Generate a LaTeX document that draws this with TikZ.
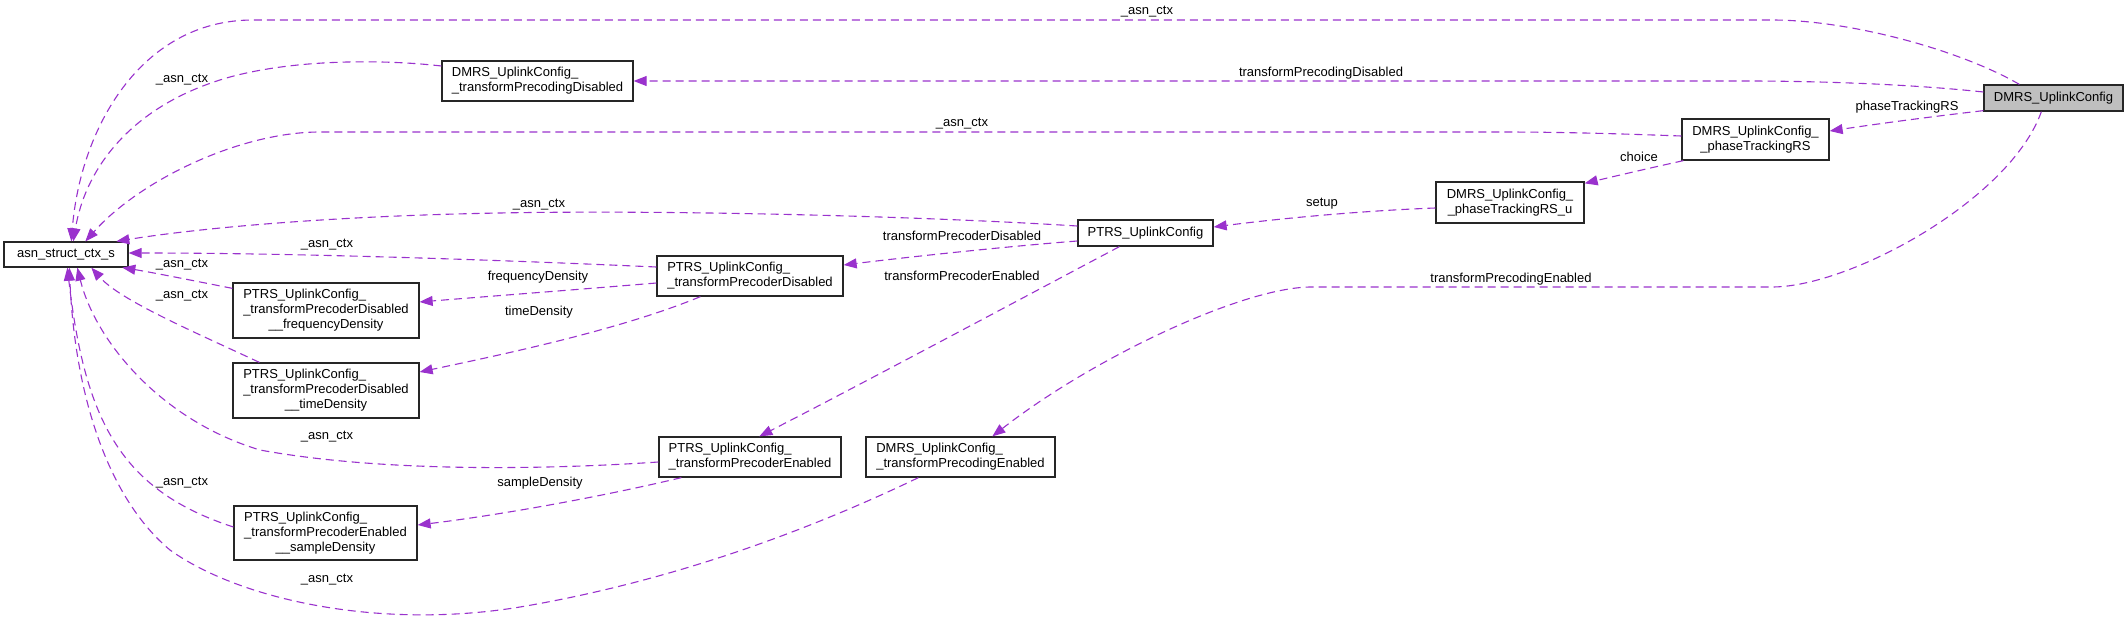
\documentclass[tikz,border=0pt]{standalone}
\usepackage{fontspec}
\setmainfont{Liberation Sans}
\usetikzlibrary{arrows.meta,calc}
\definecolor{edgec}{RGB}{154,50,205}
\newcommand{\twoline}[2]{\begin{tabular}{@{}l@{}}#1\\\multicolumn{1}{@{}c@{}}{#2}\end{tabular}}
\newcommand{\threeline}[3]{\begin{tabular}{@{}l@{}}#1\\#2\\\multicolumn{1}{@{}c@{}}{#3}\end{tabular}}
\begin{document}
\begin{tikzpicture}[x=1pt,y=-1pt,
  font=\fontsize{13}{15}\selectfont,
  box/.style={draw=black!85, line width=1.3pt, fill=white, inner sep=0pt, anchor=center},
  edge/.style={draw=edgec, line width=1.1pt, dash pattern=on 8pt off 5pt, -{Triangle[length=13pt,width=10pt]}},
  lbl/.style={inner sep=0pt}]
\useasboundingbox (0,0) rectangle (2128,621);

% nodes
\node[box, minimum width=124pt, minimum height=25pt] (asn) at (66,254.5) {asn\_struct\_ctx\_s};
\node[box, minimum width=191pt, minimum height=40pt] (dtpd) at (537.5,81) {\twoline{DMRS\_UplinkConfig\_}{\_transformPrecodingDisabled}};
\node[box, minimum width=186pt, minimum height=55pt] (freq) at (326,310.5) {\threeline{PTRS\_UplinkConfig\_}{\_transformPrecoderDisabled}{\_\_frequencyDensity}};
\node[box, minimum width=186pt, minimum height=55pt] (time) at (326,390.5) {\threeline{PTRS\_UplinkConfig\_}{\_transformPrecoderDisabled}{\_\_timeDensity}};
\node[box, minimum width=183pt, minimum height=54pt] (sample) at (325.5,533) {\threeline{PTRS\_UplinkConfig\_}{\_transformPrecoderEnabled}{\_\_sampleDensity}};
\node[box, minimum width=186pt, minimum height=40pt] (ptd) at (750,276) {\twoline{PTRS\_UplinkConfig\_}{\_transformPrecoderDisabled}};
\node[box, minimum width=135pt, minimum height=26pt] (ptrs) at (1145.5,233) {PTRS\_UplinkConfig};
\node[box, minimum width=182pt, minimum height=40pt] (pte) at (750,457) {\twoline{PTRS\_UplinkConfig\_}{\_transformPrecoderEnabled}};
\node[box, minimum width=189pt, minimum height=40pt] (dte) at (960.5,457) {\twoline{DMRS\_UplinkConfig\_}{\_transformPrecodingEnabled}};
\node[box, fill=black!25, minimum width=139pt, minimum height=26pt] (dmrs) at (2053.5,98) {DMRS\_UplinkConfig};
\node[box, minimum width=147pt, minimum height=41pt] (ptrsrs) at (1755.5,139.5) {\twoline{DMRS\_UplinkConfig\_}{\_phaseTrackingRS}};
\node[box, minimum width=148pt, minimum height=41pt] (ptrsu) at (1510,202.5) {\twoline{DMRS\_UplinkConfig\_}{\_phaseTrackingRS\_u}};

% edges
\draw[edge] ($(dmrs.north west)+(36,0)$) .. controls (1960,50) and (1850,20) .. (1772,20) -- (253,20) .. controls (140,20) and (80,130) .. ($(asn.north west)+(68,0)$);
\draw[edge] ($(dtpd.west)+(0,-15)$) .. controls (390,60) and (300,58) .. (230,77) .. controls (130,105) and (85,170) .. ($(asn.north west)+(70,0)$);
\draw[edge] ($(dmrs.west)+(0,-6)$) .. controls (1900,83) and (1800,81) .. (1747,81) -- (dtpd.east);
\draw[edge] ($(dmrs.south west)+(0,-1)$) .. controls (1920,118) and (1870,125) .. ($(ptrsrs.east)+(0,-8.5)$);
\draw[edge] ($(dmrs.south west)+(58,0)$) .. controls (2010,200) and (1850,287) .. (1772,287) -- (1310,287) .. controls (1240,288) and (1090,360) .. ($(dte.north west)+(127,0)$);
\draw[edge] ($(ptrsrs.west)+(0,-3.5)$) .. controls (1600,133) and (1550,132) .. (1500,132) -- (320,132) .. controls (240,132) and (140,180) .. ($(asn.north west)+(82,0)$);
\draw[edge] ($(ptrsrs.south west)+(2,0)$) .. controls (1650,168) and (1620,175) .. ($(ptrsu.north east)+(0,2)$);
\draw[edge] ($(ptrsu.west)+(0,5.5)$) .. controls (1380,210) and (1300,216) .. ($(ptrs.east)+(0,-6)$);
\draw[edge] ($(ptrs.west)+(0,-7)$) .. controls (900,215) and (650,210) .. (500,213) .. controls (330,216) and (200,228) .. ($(asn.north west)+(113,0)$);
\draw[edge] ($(ptrs.west)+(0,8)$) .. controls (1000,247) and (900,258) .. ($(ptd.east)+(0,-11)$);
\draw[edge] ($(ptrs.south west)+(42,0)$) .. controls (1000,310) and (850,390) .. ($(pte.north west)+(101,0)$);
\draw[edge] ($(ptd.west)+(0,-9)$) .. controls (500,260) and (300,253) .. ($(asn.east)+(0,-1.5)$);
\draw[edge] ($(ptd.west)+(0,7)$) .. controls (560,291) and (480,297) .. ($(freq.east)+(0,-8.5)$);
\draw[edge] ($(ptd.south west)+(44,0)$) .. controls (620,330) and (500,355) .. ($(time.east)+(0,-18.5)$);
\draw[edge] ($(freq.north west)+(0,6)$) .. controls (190,280) and (150,272) .. ($(asn.south west)+(119,0)$);
\draw[edge] ($(time.north west)+(27,0)$) .. controls (190,330) and (120,300) .. ($(asn.south west)+(88,0)$);
\draw[edge] ($(pte.west)+(0,5)$) .. controls (540,470) and (380,472) .. (260,450) .. controls (160,420) and (95,340) .. ($(asn.south west)+(74,0)$);
\draw[edge] ($(pte.south west)+(23,0)$) .. controls (600,497) and (500,515) .. ($(sample.east)+(0,-8)$);
\draw[edge] ($(sample.west)+(0,-6)$) .. controls (120,490) and (85,420) .. ($(asn.south west)+(64,0)$);
\draw[edge] ($(dte.south west)+(53,0)$) .. controls (820,525) and (680,580) .. (520,607) .. controls (380,630) and (240,600) .. (170,550) .. controls (110,500) and (75,400) .. ($(asn.south west)+(66,0)$);

% labels
\node[lbl] (l1) at (1147,12) {\_asn\_ctx};
\node[lbl] (l2) at (182,80) {\_asn\_ctx};
\node[lbl] (l3) at (1321,73) {transformPrecodingDisabled};
\node[lbl] (l4) at (1907,107) {phaseTrackingRS};
\node[lbl] (l5) at (962,124) {\_asn\_ctx};
\node[lbl] (l6) at (1639,157) {choice};
\node[lbl] (l7) at (1322,204) {setup};
\node[lbl] (l8) at (539,205) {\_asn\_ctx};
\node[lbl] (l9) at (962,236) {transformPrecoderDisabled};
\node[lbl] (l10) at (962,276) {transformPrecoderEnabled};
\node[lbl] (l11) at (1511,279) {transformPrecodingEnabled};
\node[lbl] (l12) at (327,245) {\_asn\_ctx};
\node[lbl] (l13) at (182,265) {\_asn\_ctx};
\node[lbl] (l14) at (538,277) {frequencyDensity};
\node[lbl] (l15) at (182,296) {\_asn\_ctx};
\node[lbl] (l16) at (539,312) {timeDensity};
\node[lbl] (l17) at (327,437) {\_asn\_ctx};
\node[lbl] (l18) at (540,483) {sampleDensity};
\node[lbl] (l19) at (182,483) {\_asn\_ctx};
\node[lbl] (l20) at (327,580) {\_asn\_ctx};
\end{tikzpicture}
\end{document}
